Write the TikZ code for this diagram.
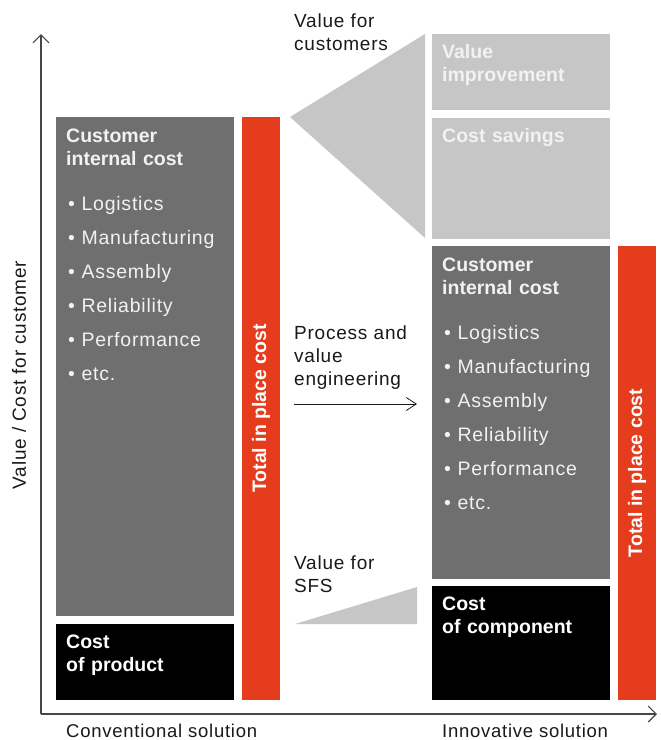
\documentclass[tikz,border=0pt]{standalone}
\usepackage{fontspec}
\setmainfont[LetterSpace=4]{Liberation Sans}
\newfontfamily\headfont{Liberation Sans}
\usetikzlibrary{arrows.meta}
\definecolor{darkbox}{RGB}{111,111,111}
\definecolor{lightbox}{RGB}{198,198,198}
\definecolor{totalred}{RGB}{229,60,29}
\definecolor{axisgray}{RGB}{70,70,70}
\definecolor{labeltext}{RGB}{25,25,25}
\definecolor{boxtext}{RGB}{242,242,242}

\begin{document}
\begin{tikzpicture}
[x=1pt,y=-1pt,
 block/.style={anchor=north west,inner sep=0pt,outer sep=0pt},
 head/.style={anchor=base west,inner sep=0pt,text width=190pt,align=left,
              text=boxtext,font=\headfont\bfseries\fontsize{19.5}{23}\selectfont},
 items/.style={anchor=base west,inner sep=0pt,text width=190pt,align=left,
               text=boxtext,font=\fontsize{19.5}{34}\selectfont},
 note/.style={anchor=base west,inner sep=0pt,text width=160pt,align=left,
              text=labeltext,font=\fontsize{19}{23}\selectfont},
 axislabel/.style={anchor=base west,inner sep=0pt,text=labeltext,
                   font=\fontsize{18.5}{23}\selectfont},
 total/.style={rotate=90,inner sep=0pt,text=white,
               font=\headfont\bfseries\fontsize{19.5}{23}\selectfont},
 axis/.style={draw=axisgray,line width=1.1pt,-{Straight Barb[length=8pt,width=16pt]}}]
\useasboundingbox (0,0) rectangle (661,740);

% conventional solution
\node[block,fill=darkbox,minimum width=178pt,minimum height=499pt] (lcost) at (56,117) {};
\node[block,fill=black,minimum width=178pt,minimum height=76pt] (lprod) at (56,624) {};
\node[block,fill=totalred,minimum width=38pt,minimum height=583pt] (ltotal) at (242,117) {};
\node[head] (lcosthead) at (66,142) {Customer\\internal cost};
\node[items] (lcostlist) at (68,210) {\textbullet\ Logistics\\\textbullet\ Manufacturing\\
  \textbullet\ Assembly\\\textbullet\ Reliability\\\textbullet\ Performance\\\textbullet\ etc.};
\node[head,text=white] (lprodhead) at (66,648) {Cost\\of product};
\node[total] (ltotaltext) at (ltotal.center) {Total in place cost};

% innovative solution
\node[block,fill=lightbox,minimum width=178pt,minimum height=76pt] (vimp) at (432,34) {};
\node[block,fill=lightbox,minimum width=178pt,minimum height=121pt] (csave) at (432,118) {};
\node[block,fill=darkbox,minimum width=178pt,minimum height=333pt] (rcost) at (432,246) {};
\node[block,fill=black,minimum width=178pt,minimum height=114pt] (rcomp) at (432,586) {};
\node[block,fill=totalred,minimum width=38pt,minimum height=454pt] (rtotal) at (618,246) {};
\node[head] (vimphead) at (442,58) {Value\\improvement};
\node[head] (csavehead) at (442,142) {Cost savings};
\node[head] (rcosthead) at (442,271) {Customer\\internal cost};
\node[items] (rcostlist) at (444,339) {\textbullet\ Logistics\\\textbullet\ Manufacturing\\
  \textbullet\ Assembly\\\textbullet\ Reliability\\\textbullet\ Performance\\\textbullet\ etc.};
\node[head,text=white] (rcomphead) at (442,610) {Cost\\of component};
\node[total] (rtotaltext) at (rtotal.center) {Total in place cost};

% value wedges
\fill[lightbox] (290,117) -- (425,34) -- (425,238) -- cycle;
\fill[lightbox] (295,624) -- (417,587) -- (417,624) -- cycle;
\node[note] (custvalue) at (294,27) {Value for\\customers};
\node[note] (sfsvalue) at (294,569) {Value for\\SFS};

% engineering step
\node[note] (engineering) at (294,339) {Process and\\value\\engineering};
\coordinate (engstart) at (294,404);
\coordinate (engend) at (417,404);
\draw[draw=labeltext,line width=0.8pt,-{Straight Barb[length=10pt,width=13pt]}] (engstart) -- (engend);

% axes
\coordinate (origin) at (41,714);
\coordinate (ytip) at (41,34);
\coordinate (xtip) at (657,714);
\draw[axis] (origin) -- (ytip);
\draw[axis] (origin) -- (xtip);
\node[rotate=90,inner sep=0pt,text=labeltext,font=\fontsize{19}{23}\selectfont] (ylabel) at (19,375) {Value / Cost for customer};
\node[axislabel] (convlabel) at (66,737) {Conventional solution};
\node[axislabel] (innovlabel) at (442,737) {Innovative solution};
\end{tikzpicture}
\end{document}
